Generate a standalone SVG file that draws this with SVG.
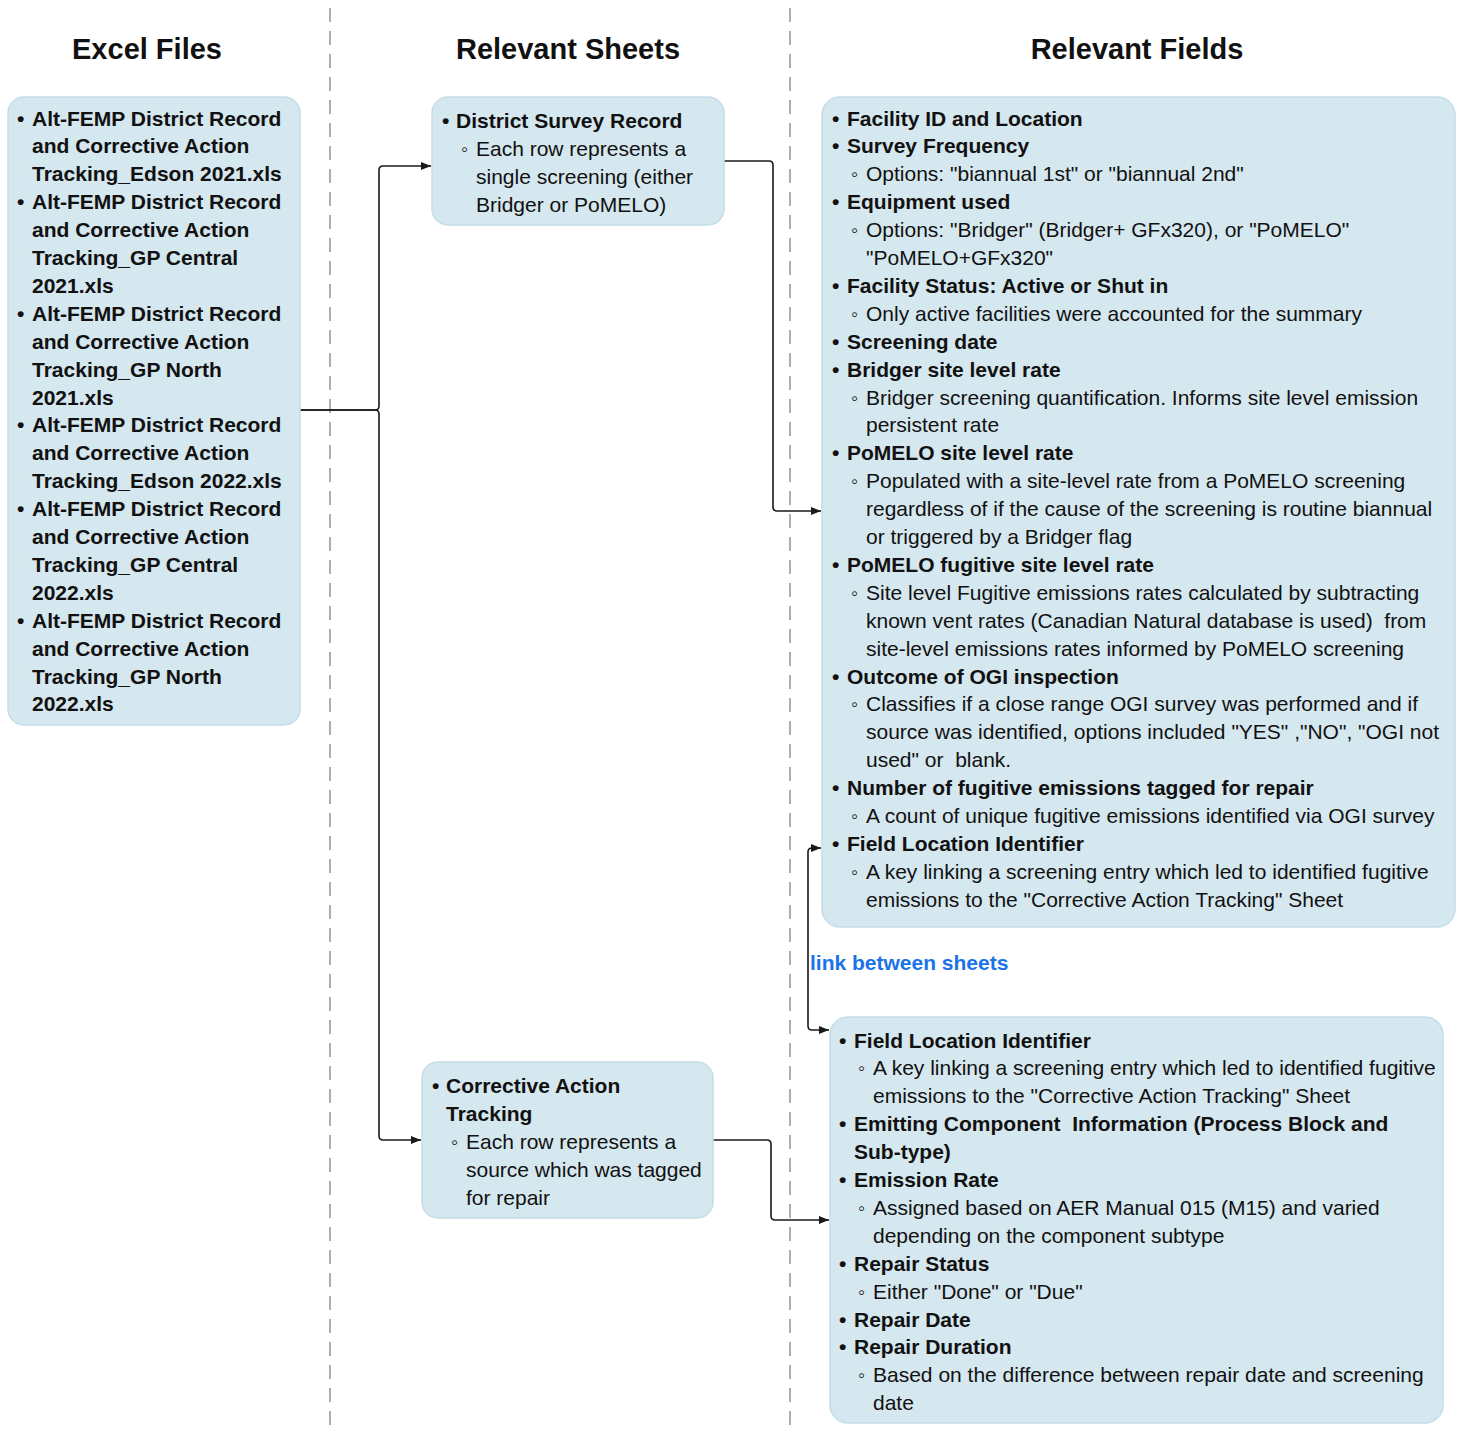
<svg xmlns="http://www.w3.org/2000/svg" width="1462" height="1433" viewBox="0 0 1462 1433">
<style>
.bg{fill:#ffffff}
.box{fill:#d5e7ef;stroke:#c4dde8;stroke-width:1.5}
.div{stroke:#a9aeb6;stroke-width:2;stroke-dasharray:14,9;fill:none}
.hdr{font-family:"Liberation Sans",Arial,sans-serif;font-weight:bold;font-size:29px;fill:#111;text-anchor:middle}
text{font-family:"Liberation Sans",Arial,sans-serif;font-size:21px;fill:#111;white-space:pre}
.b{font-weight:bold}
.sb{font-size:20px}
.con{fill:none;stroke:#1a1a1a;stroke-width:1.6}
.link{fill:#1a73e8;font-weight:bold}
</style>
<defs>
<marker id="ah" viewBox="0 0 10 10" refX="10" refY="5" markerWidth="10" markerHeight="10" markerUnits="userSpaceOnUse" orient="auto-start-reverse">
<path d="M0,1 L10,5 L0,9 z" fill="#1a1a1a"/>
</marker>
</defs>
<rect class="bg" x="0" y="0" width="1462" height="1433"/>
<g id="dividers">
<line class="div" x1="330" y1="8" x2="330" y2="1433"/>
<line class="div" x1="790" y1="8" x2="790" y2="1433"/>
</g>
<g id="headers">
<text class="hdr" x="147" y="59">Excel Files</text>
<text class="hdr" x="568" y="59">Relevant Sheets</text>
<text class="hdr" x="1137" y="59">Relevant Fields</text>
</g>
<g id="connectors">
<path class="con" d="M300,410 H375 Q379,410 379,406 V170 Q379,166 383,166 H431" marker-end="url(#ah)"/>
<path class="con" d="M300,410 H375 Q379,410 379,414 V1136 Q379,1140 383,1140 H421" marker-end="url(#ah)"/>
<path class="con" d="M724,161 H769 Q773,161 773,165 V507 Q773,511 777,511 H821" marker-end="url(#ah)"/>
<path class="con" d="M713,1140 H767 Q771,1140 771,1144 V1216 Q771,1220 775,1220 H829" marker-end="url(#ah)"/>
<path class="con" d="M821,848 H812 Q808,848 808,852 V1026 Q808,1030 812,1030 H829" marker-start="url(#ah)" marker-end="url(#ah)"/>
<text class="link" x="810" y="970">link between sheets</text>
</g>
<g id="excel-files">
<rect class="box" x="8" y="97" width="292" height="628" rx="16"/>
<text class="b" x="17" y="125.5">•</text><text class="b" x="32" y="125.5">Alt-FEMP District Record</text>
<text class="b" x="32" y="153.4">and Corrective Action</text>
<text class="b" x="32" y="181.3">Tracking_Edson 2021.xls</text>
<text class="b" x="17" y="209.2">•</text><text class="b" x="32" y="209.2">Alt-FEMP District Record</text>
<text class="b" x="32" y="237.1">and Corrective Action</text>
<text class="b" x="32" y="265">Tracking_GP Central</text>
<text class="b" x="32" y="292.9">2021.xls</text>
<text class="b" x="17" y="320.8">•</text><text class="b" x="32" y="320.8">Alt-FEMP District Record</text>
<text class="b" x="32" y="348.7">and Corrective Action</text>
<text class="b" x="32" y="376.6">Tracking_GP North</text>
<text class="b" x="32" y="404.5">2021.xls</text>
<text class="b" x="17" y="432.4">•</text><text class="b" x="32" y="432.4">Alt-FEMP District Record</text>
<text class="b" x="32" y="460.3">and Corrective Action</text>
<text class="b" x="32" y="488.2">Tracking_Edson 2022.xls</text>
<text class="b" x="17" y="516.1">•</text><text class="b" x="32" y="516.1">Alt-FEMP District Record</text>
<text class="b" x="32" y="544">and Corrective Action</text>
<text class="b" x="32" y="571.9">Tracking_GP Central</text>
<text class="b" x="32" y="599.8">2022.xls</text>
<text class="b" x="17" y="627.7">•</text><text class="b" x="32" y="627.7">Alt-FEMP District Record</text>
<text class="b" x="32" y="655.6">and Corrective Action</text>
<text class="b" x="32" y="683.5">Tracking_GP North</text>
<text class="b" x="32" y="711.4">2022.xls</text>
</g>
<g id="district-survey-record">
<rect class="box" x="432" y="97" width="292" height="128" rx="16"/>
<text class="b" x="442" y="127.5">•</text><text class="b" x="456" y="127.5">District Survey Record</text>
<text class="sb" x="461" y="155.5">◦</text><text x="476" y="155.5">Each row represents a</text>
<text x="476" y="183.5">single screening (either</text>
<text x="476" y="211.5">Bridger or PoMELO)</text>
</g>
<g id="corrective-action-tracking">
<rect class="box" x="422" y="1062" width="291" height="156" rx="16"/>
<text class="b" x="432" y="1092.5">•</text><text class="b" x="446" y="1092.5">Corrective Action</text>
<text class="b" x="446" y="1120.5">Tracking</text>
<text class="sb" x="451" y="1148.5">◦</text><text x="466" y="1148.5">Each row represents a</text>
<text x="466" y="1176.5">source which was tagged</text>
<text x="466" y="1204.5">for repair</text>
</g>
<g id="survey-fields">
<rect class="box" x="822" y="97" width="633" height="830" rx="18"/>
<text class="b" x="832" y="125.5">•</text><text class="b" x="847" y="125.5">Facility ID and Location</text>
<text class="b" x="832" y="153.4">•</text><text class="b" x="847" y="153.4">Survey Frequency</text>
<text class="sb" x="851" y="181.3">◦</text><text x="866" y="181.3">Options: "biannual 1st" or "biannual 2nd"</text>
<text class="b" x="832" y="209.2">•</text><text class="b" x="847" y="209.2">Equipment used</text>
<text class="sb" x="851" y="237.1">◦</text><text x="866" y="237.1">Options: "Bridger" (Bridger+ GFx320), or "PoMELO"</text>
<text x="866" y="265">"PoMELO+GFx320"</text>
<text class="b" x="832" y="292.9">•</text><text class="b" x="847" y="292.9">Facility Status: Active or Shut in</text>
<text class="sb" x="851" y="320.8">◦</text><text x="866" y="320.8">Only active facilities were accounted for the summary</text>
<text class="b" x="832" y="348.7">•</text><text class="b" x="847" y="348.7">Screening date</text>
<text class="b" x="832" y="376.6">•</text><text class="b" x="847" y="376.6">Bridger site level rate</text>
<text class="sb" x="851" y="404.5">◦</text><text x="866" y="404.5">Bridger screening quantification. Informs site level emission</text>
<text x="866" y="432.4">persistent rate</text>
<text class="b" x="832" y="460.3">•</text><text class="b" x="847" y="460.3">PoMELO site level rate</text>
<text class="sb" x="851" y="488.2">◦</text><text x="866" y="488.2">Populated with a site-level rate from a PoMELO screening</text>
<text x="866" y="516.1">regardless of if the cause of the screening is routine biannual</text>
<text x="866" y="544">or triggered by a Bridger flag</text>
<text class="b" x="832" y="571.9">•</text><text class="b" x="847" y="571.9">PoMELO fugitive site level rate</text>
<text class="sb" x="851" y="599.8">◦</text><text x="866" y="599.8">Site level Fugitive emissions rates calculated by subtracting</text>
<text x="866" y="627.7">known vent rates (Canadian Natural database is used)  from</text>
<text x="866" y="655.6">site-level emissions rates informed by PoMELO screening</text>
<text class="b" x="832" y="683.5">•</text><text class="b" x="847" y="683.5">Outcome of OGI inspection</text>
<text class="sb" x="851" y="711.4">◦</text><text x="866" y="711.4">Classifies if a close range OGI survey was performed and if</text>
<text x="866" y="739.3">source was identified, options included "YES" ,"NO", "OGI not</text>
<text x="866" y="767.2">used" or  blank.</text>
<text class="b" x="832" y="795.1">•</text><text class="b" x="847" y="795.1">Number of fugitive emissions tagged for repair</text>
<text class="sb" x="851" y="823">◦</text><text x="866" y="823">A count of unique fugitive emissions identified via OGI survey</text>
<text class="b" x="832" y="850.9">•</text><text class="b" x="847" y="850.9">Field Location Identifier</text>
<text class="sb" x="851" y="878.8">◦</text><text x="866" y="878.8">A key linking a screening entry which led to identified fugitive</text>
<text x="866" y="906.7">emissions to the "Corrective Action Tracking" Sheet</text>
</g>
<g id="tracking-fields">
<rect class="box" x="830" y="1017" width="613" height="406" rx="18"/>
<text class="b" x="839" y="1047.5">•</text><text class="b" x="854" y="1047.5">Field Location Identifier</text>
<text class="sb" x="858" y="1075.4">◦</text><text x="873" y="1075.4">A key linking a screening entry which led to identified fugitive</text>
<text x="873" y="1103.3">emissions to the "Corrective Action Tracking" Sheet</text>
<text class="b" x="839" y="1131.2">•</text><text class="b" x="854" y="1131.2">Emitting Component  Information (Process Block and</text>
<text class="b" x="854" y="1159.1">Sub-type)</text>
<text class="b" x="839" y="1187">•</text><text class="b" x="854" y="1187">Emission Rate</text>
<text class="sb" x="858" y="1214.9">◦</text><text x="873" y="1214.9">Assigned based on AER Manual 015 (M15) and varied</text>
<text x="873" y="1242.8">depending on the component subtype</text>
<text class="b" x="839" y="1270.7">•</text><text class="b" x="854" y="1270.7">Repair Status</text>
<text class="sb" x="858" y="1298.6">◦</text><text x="873" y="1298.6">Either "Done" or "Due"</text>
<text class="b" x="839" y="1326.5">•</text><text class="b" x="854" y="1326.5">Repair Date</text>
<text class="b" x="839" y="1354.4">•</text><text class="b" x="854" y="1354.4">Repair Duration</text>
<text class="sb" x="858" y="1382.3">◦</text><text x="873" y="1382.3">Based on the difference between repair date and screening</text>
<text x="873" y="1410.2">date</text>
</g>
</svg>
